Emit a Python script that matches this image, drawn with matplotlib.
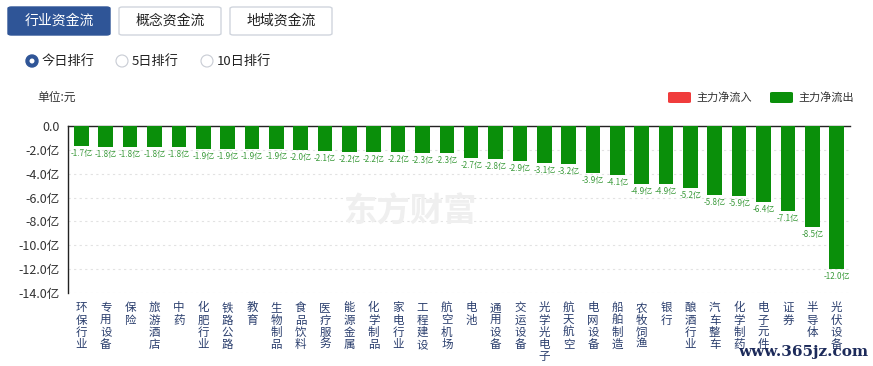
import matplotlib.pyplot as plt
import matplotlib.patches as mpatches
import numpy as np

plt.rcParams['font.family'] = ['Noto Sans CJK SC', 'DejaVu Sans']

categories = ['环保行业', '专用设备', '保险', '旅游酒店', '中药', '化肥行业', '铁路公路', '教育',
              '生物制品', '食品饮料', '医疗服务', '能源金属', '化学制品', '家电行业', '工程建设',
              '航空机场', '电池', '通用设备', '交运设备', '光学光电子', '航天航空', '电网设备',
              '船舶制造', '农牧饲渔', '银行', '酿酒行业', '汽车整车', '化学制药', '电子元件',
              '证券', '半导体', '光伏设备']
values = [-1.7, -1.8, -1.8, -1.8, -1.8, -1.9, -1.9, -1.9, -1.9, -2.0, -2.1, -2.2, -2.2, -2.2,
          -2.3, -2.3, -2.7, -2.8, -2.9, -3.1, -3.2, -3.9, -4.1, -4.9, -4.9, -5.2, -5.8, -5.9,
          -6.4, -7.1, -8.5, -12.0]
yticks = [0, -2, -4, -6, -8, -10, -12, -14]
ytick_labels = ['0.0', '-2.0亿', '-4.0亿', '-6.0亿', '-8.0亿', '-10.0亿', '-12.0亿', '-14.0亿']
tabs = ['行业资金流', '概念资金流', '地域资金流']
radios = ['今日排行', '5日排行', '10日排行']

W, H = 873, 366
fig = plt.figure(figsize=(W / 100, H / 100), dpi=100)
fig.patch.set_facecolor('white')

def fx(px):
    return px / W

def fy(py):
    return 1 - py / H

# tab buttons
tab_x = [8, 119, 230]
for i, (t, x0) in enumerate(zip(tabs, tab_x)):
    active = i == 0
    box = mpatches.FancyBboxPatch((fx(x0), fy(35)), fx(102), 28 / H,
                                  boxstyle='round,pad=0,rounding_size=0.004',
                                  transform=fig.transFigure,
                                  facecolor='#2f5597' if active else 'white',
                                  edgecolor='#2f5597' if active else '#d0d5dd', lw=1)
    fig.add_artist(box)
    fig.text(fx(x0 + 51), fy(21), t, ha='center', va='center', fontsize=10,
             color='white' if active else '#222222')

# radio buttons
radio_x = [32, 122, 207]
for i, (r, x0) in enumerate(zip(radios, radio_x)):
    if i == 0:
        fig.add_artist(mpatches.Ellipse((fx(x0), fy(61)), 12 / W, 12 / H, transform=fig.transFigure,
                                        facecolor='#2f5597', edgecolor='#2f5597'))
        fig.add_artist(mpatches.Ellipse((fx(x0), fy(61)), 5 / W, 5 / H, transform=fig.transFigure,
                                        facecolor='white', edgecolor='none'))
    else:
        fig.add_artist(mpatches.Ellipse((fx(x0), fy(61)), 12 / W, 12 / H, transform=fig.transFigure,
                                        facecolor='white', edgecolor='#c8ccd4', lw=0.8))
    fig.text(fx(x0 + 10), fy(61), r, ha='left', va='center', fontsize=9.5, color='#222222')

# unit + legend
fig.text(fx(37), fy(97), '单位:元', ha='left', va='center', fontsize=8.5, color='#333333')
leg = [('主力净流入', '#f03c3c', 668), ('主力净流出', '#0a8f0a', 770)]
for lab, c, x0 in leg:
    fig.add_artist(mpatches.FancyBboxPatch((fx(x0), fy(103)), fx(23), 11 / H,
                                           boxstyle='round,pad=0,rounding_size=0.003',
                                           transform=fig.transFigure, facecolor=c, edgecolor='none'))
    fig.text(fx(x0 + 28), fy(97.5), lab, ha='left', va='center', fontsize=8, color='#333333')

# main chart
ax = fig.add_axes([fx(68), fy(293), fx(850 - 68), (293 - 126) / H])
x = np.arange(len(categories))
ax.bar(x, values, width=0.6, color='#0a8f0a', zorder=3)
for xi, v in zip(x, values):
    ax.text(xi, v - 0.25, '%.1f亿' % v, ha='center', va='top', fontsize=5.8, color='#3a9a3a')

ax.set_xlim(-0.55, len(categories) - 0.45)
ax.set_ylim(-14, 0)
ax.set_yticks(yticks)
ax.set_yticklabels(ytick_labels, fontsize=9, color='#333333')
ax.set_xticks(x)
ax.set_xticklabels(['\n'.join(c) for c in categories], fontsize=8.3, color='#2b3f6e',
                   linespacing=0.92, va='top')
ax.tick_params(axis='x', length=0, pad=6)
ax.tick_params(axis='y', length=0, pad=6)
ax.grid(axis='y', linestyle=(0, (2, 3)), color='#e2e2e2', lw=0.8, zorder=0)
for s in ['right', 'bottom']:
    ax.spines[s].set_visible(False)
ax.spines['top'].set_color('#222222')
ax.spines['left'].set_color('#222222')
ax.spines['top'].set_linewidth(1)
ax.spines['left'].set_linewidth(1)

# watermarks
fig.text(fx(410), fy(212), '东方财富', ha='center', va='center', fontsize=24,
         color='#efefef', fontweight='bold', zorder=0)
fig.text(fx(868), fy(352), 'www.365jz.com', ha='right', va='center', fontsize=11,
         color='#1c2a5a', family='DejaVu Serif', fontweight='bold')

fig.savefig('out.png', dpi=100)
